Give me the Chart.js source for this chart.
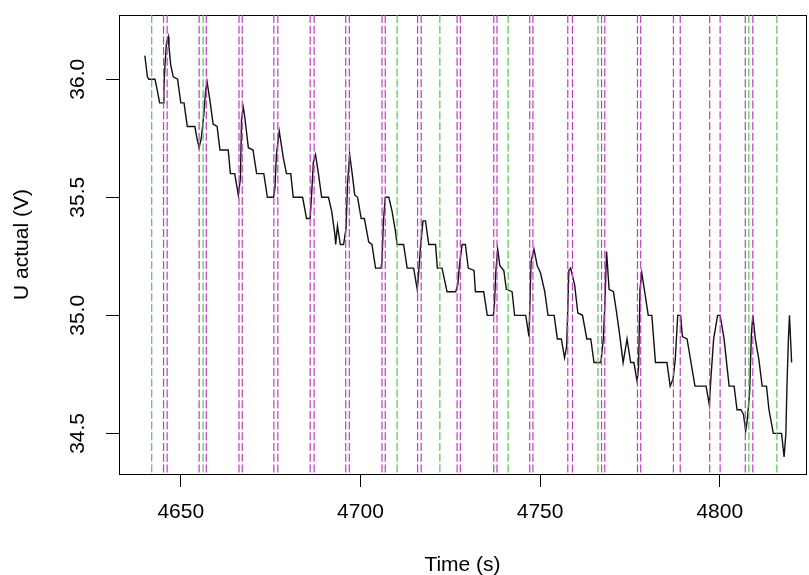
<!DOCTYPE html>
<html>
<head>
<meta charset="utf-8">
<script src="https://cdn.jsdelivr.net/npm/chart.js@4/dist/chart.umd.min.js"></script>
<style>
  html, body { margin: 0; padding: 0; background: #fff; }
  #wrap { width: 809px; height: 575px; }
</style>
</head>
<body>
<div id="wrap"><canvas id="chart" width="809" height="575"></canvas></div>
<script>
// Measured terminal voltage over time
const timeSec = [
  4640.0, 4640.7, 4641.1, 4642.8, 4643.5, 4644.1, 4645.1, 4645.3, 4645.6, 4646.0,
  4646.5, 4646.7, 4647.2, 4647.9, 4649.1, 4650.0, 4650.9, 4651.8, 4653.9, 4654.5,
  4655.1, 4655.7, 4656.4, 4656.9, 4657.3, 4658.1, 4659.0, 4660.1, 4660.9, 4663.2,
  4663.8, 4665.0, 4666.0, 4666.6, 4666.9, 4667.4, 4667.8, 4668.8, 4670.1, 4671.1,
  4673.1, 4674.1, 4675.8, 4676.2, 4676.6, 4677.4, 4678.5, 4679.4, 4680.6, 4681.3,
  4683.9, 4685.0, 4686.0, 4686.4, 4686.9, 4687.5, 4688.3, 4689.2, 4691.1, 4692.0,
  4692.9, 4693.1, 4693.6, 4694.4, 4695.3, 4696.0, 4696.4, 4697.0, 4697.7, 4698.4,
  4699.2, 4700.2, 4701.1, 4702.3, 4703.2, 4704.2, 4705.7, 4706.0, 4706.4, 4706.9,
  4707.9, 4708.8, 4709.7, 4710.2, 4712.0, 4713.0, 4714.8, 4715.8, 4716.2, 4716.7,
  4717.4, 4718.1, 4719.0, 4720.9, 4721.4, 4722.7, 4724.1, 4726.5, 4727.1, 4727.6,
  4728.3, 4729.2, 4730.0, 4731.6, 4732.0, 4734.3, 4735.3, 4737.0, 4737.3, 4737.7,
  4738.2, 4738.8, 4739.9, 4740.6, 4742.2, 4742.9, 4746.0, 4746.9, 4747.5, 4748.3,
  4749.2, 4750.1, 4751.3, 4752.2, 4753.9, 4754.8, 4755.9, 4756.8, 4757.4, 4758.0,
  4758.5, 4759.6, 4760.5, 4761.8, 4763.0, 4764.1, 4765.0, 4766.9, 4767.6, 4768.0,
  4768.5, 4769.2, 4770.4, 4771.3, 4772.2, 4773.1, 4774.2, 4775.2, 4776.1, 4777.0,
  4777.4, 4777.8, 4778.3, 4779.2, 4780.1, 4781.1, 4782.1, 4785.3, 4786.2, 4787.0,
  4787.6, 4788.3, 4789.1, 4789.6, 4790.9, 4792.0, 4793.1, 4796.2, 4797.1, 4797.6,
  4798.3, 4799.4, 4800.1, 4801.2, 4802.6, 4804.0, 4804.8, 4805.9, 4806.6, 4807.2,
  4807.6, 4808.3, 4808.8, 4809.2, 4809.9, 4810.9, 4811.8, 4813.0, 4813.7, 4814.9,
  4817.2, 4817.9, 4818.4, 4818.7, 4819.1, 4819.4, 4819.7, 4820.0
];
const voltage = [
  36.10, 36.01, 36.00, 36.00, 35.95, 35.90, 35.90, 35.96, 36.06, 36.15,
  36.18, 36.14, 36.06, 36.01, 36.00, 35.90, 35.90, 35.80, 35.80, 35.75,
  35.71, 35.75, 35.85, 35.95, 35.99, 35.91, 35.81, 35.80, 35.70, 35.70,
  35.60, 35.60, 35.51, 35.58, 35.83, 35.88, 35.84, 35.71, 35.70, 35.60,
  35.60, 35.50, 35.50, 35.54, 35.68, 35.78, 35.67, 35.60, 35.60, 35.50,
  35.50, 35.41, 35.41, 35.51, 35.65, 35.68, 35.60, 35.50, 35.50, 35.44,
  35.34, 35.30, 35.38, 35.30, 35.30, 35.37, 35.56, 35.68, 35.60, 35.51,
  35.50, 35.41, 35.41, 35.31, 35.30, 35.20, 35.20, 35.23, 35.40, 35.50,
  35.50, 35.44, 35.36, 35.30, 35.30, 35.20, 35.20, 35.11, 35.18, 35.29,
  35.40, 35.40, 35.30, 35.30, 35.20, 35.20, 35.10, 35.10, 35.13, 35.22,
  35.30, 35.30, 35.20, 35.19, 35.10, 35.10, 35.00, 35.00, 35.05, 35.19,
  35.28, 35.21, 35.19, 35.11, 35.10, 35.00, 35.00, 34.91, 35.23, 35.28,
  35.21, 35.18, 35.10, 35.00, 35.00, 34.90, 34.90, 34.82, 34.87, 35.19,
  35.20, 35.13, 35.01, 35.00, 34.90, 34.90, 34.80, 34.80, 34.90, 35.04,
  35.27, 35.11, 35.10, 35.01, 34.91, 34.80, 34.90, 34.80, 34.80, 34.72,
  34.78, 35.11, 35.18, 35.09, 35.00, 35.00, 34.80, 34.80, 34.70, 34.73,
  34.81, 35.00, 35.00, 34.91, 34.90, 34.80, 34.70, 34.70, 34.62, 34.75,
  34.90, 35.00, 35.00, 34.90, 34.70, 34.70, 34.60, 34.60, 34.58, 34.51,
  34.55, 34.67, 34.92, 35.00, 34.90, 34.81, 34.70, 34.70, 34.60, 34.50,
  34.50, 34.40, 34.50, 34.70, 34.90, 35.00, 34.90, 34.80
];

// Event markers (s)
const greenEvents = [4641.9, 4656.2, 4710.2, 4722.1, 4741.1, 4766.1, 4808.1, 4815.9];
const purpleEvents = [
  4645.2, 4646.2, 4655.1, 4657.1, 4666.2, 4667.1, 4675.9, 4677.0, 4686.0, 4687.1,
  4695.9, 4696.9, 4706.0, 4706.9, 4715.9, 4716.9, 4726.9, 4727.8, 4737.1, 4738.0,
  4747.1, 4748.0, 4757.7, 4759.0, 4767.1, 4768.0, 4777.1, 4778.0, 4787.1, 4789.0,
  4797.2, 4800.1, 4807.1, 4809.2
];

// Axis ranges and ticks
const xRange = [4632.8, 4824.0];
const yRange = [34.328, 36.272];
const xTickValues = [4650, 4700, 4750, 4800];
const yTickValues = [34.5, 35.0, 35.5, 36.0];
const yTickLabels = ['34.5', '35.0', '35.5', '36.0'];

const FONT = '"Liberation Sans", Arial, sans-serif';
const FONT_SIZE = 21;
const GREEN = '#55c455';
const PURPLE = '#bb3fbf';

// One dashed vertical line per event, drawn top to bottom
function eventLine(t, color) {
  return {
    data: [{ x: t, y: yRange[1] }, { x: t, y: yRange[0] }],
    showLine: true,
    borderColor: color,
    borderWidth: 1.2,
    borderDash: [8, 2.7],
    pointRadius: 0,
    fill: false
  };
}

const datasets = [
  ...purpleEvents.map(t => eventLine(t, PURPLE)),
  ...greenEvents.map(t => eventLine(t, GREEN)),
  {
    data: timeSec.map((t, i) => ({ x: t, y: voltage[i] })),
    showLine: true,
    borderColor: '#111',
    borderWidth: 1.4,
    pointRadius: 0,
    tension: 0,
    fill: false
  }
];

// Y tick labels are written parallel to the axis
const yLabelPlugin = {
  id: 'yLabels',
  afterDraw(chart) {
    const s = chart.scales.y;
    const ctx = chart.ctx;
    ctx.save();
    ctx.font = FONT_SIZE + 'px ' + FONT;
    ctx.fillStyle = '#000';
    ctx.textAlign = 'center';
    ctx.textBaseline = 'middle';
    yTickValues.forEach((v, i) => {
      const py = s.getPixelForValue(v);
      ctx.save();
      ctx.translate(chart.chartArea.left - 41, py);
      ctx.rotate(-Math.PI / 2);
      ctx.fillText(yTickLabels[i], 0, 0);
      ctx.restore();
    });
    ctx.restore();
  }
};

const frameAxis = (position) => ({
  type: 'linear',
  position: position,
  display: true,
  ticks: { display: false },
  grid: { display: true, drawOnChartArea: false, drawTicks: false },
  border: { display: true, color: '#000', width: 1 }
});

new Chart(document.getElementById('chart'), {
  type: 'scatter',
  data: { datasets },
  options: {
    responsive: false,
    animation: false,
    devicePixelRatio: 1,
    layout: { padding: { left: 0, right: 3, top: 15, bottom: 0 } },
    plugins: { legend: { display: false }, tooltip: { enabled: false } },
    scales: {
      x: {
        type: 'linear',
        position: 'bottom',
        min: xRange[0],
        max: xRange[1],
        afterBuildTicks: s => { s.ticks = xTickValues.map(v => ({ value: v })); },
        ticks: {
          color: '#000',
          font: { family: FONT, size: FONT_SIZE, lineHeight: 1.2 },
          padding: 13,
          maxRotation: 0,
          autoSkip: false,
          callback: v => String(v)
        },
        grid: { drawOnChartArea: false, drawTicks: true, tickLength: 13, color: '#000' },
        border: { display: true, color: '#000', width: 1 },
        title: {
          display: true,
          text: 'Time (s)',
          color: '#000',
          font: { family: FONT, size: FONT_SIZE, lineHeight: 0.9 },
          padding: { top: 17.9, bottom: 0 }
        }
      },
      y: {
        type: 'linear',
        position: 'left',
        min: yRange[0],
        max: yRange[1],
        afterBuildTicks: s => { s.ticks = yTickValues.map(v => ({ value: v })); },
        ticks: { display: false },
        grid: { drawOnChartArea: false, drawTicks: true, tickLength: 13, color: '#000' },
        border: { display: true, color: '#000', width: 1 },
        title: {
          display: true,
          text: 'U actual (V)',
          color: '#000',
          font: { family: FONT, size: FONT_SIZE, lineHeight: 1 },
          padding: { top: 12, bottom: 73 }
        }
      },
      xTop: frameAxis('top'),
      yRight: frameAxis('right')
    }
  },
  plugins: [yLabelPlugin]
});
</script>
</body>
</html>
